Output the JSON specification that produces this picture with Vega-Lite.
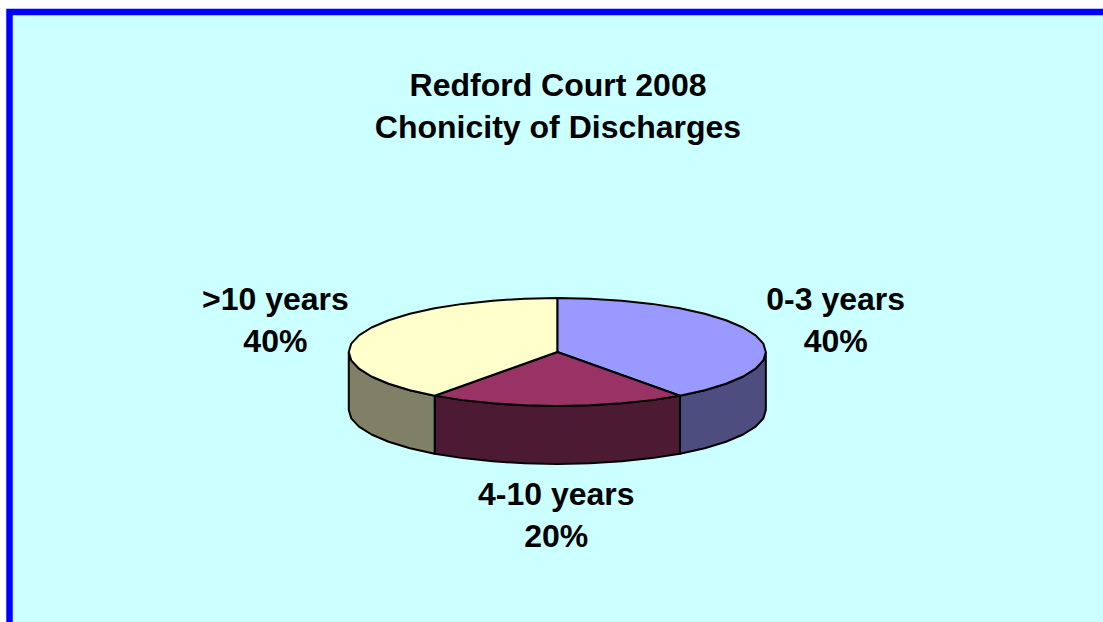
{
"$schema":"https://vega.github.io/schema/vega-lite/v6.json",
"autosize":{"type":"none"},
"padding":{"left":9.5,"top":12,"right":0,"bottom":0},
"width":1120,"height":630,
"background":"#FFFFFF",
"view":{"fill":"#CCFFFF","stroke":"#0000FF","strokeWidth":6.5},
"title":{"text":["Redford Court 2008","Chonicity of Discharges"],"anchor":"start","frame":"group","orient":"top","align":"center","baseline":"top","dx":548.5,"offset":-133,"font":"Liberation Sans","fontSize":32,"fontWeight":"bold","lineHeight":42,"color":"#000000"},
"datasets":{
"sides":[
{"part":"0-3 years side","i":1,"u":1,"v":0},{"part":"0-3 years side","i":2,"u":0.988,"v":-0.156},{"part":"0-3 years side","i":3,"u":0.951,"v":-0.309},{"part":"0-3 years side","i":4,"u":0.891,"v":-0.454},{"part":"0-3 years side","i":5,"u":0.809,"v":-0.588},{"part":"0-3 years side","i":6,"u":0.707,"v":-0.707},{"part":"0-3 years side","i":7,"u":0.588,"v":-0.809},{"part":"0-3 years side","i":8,"u":0.588,"v":-1.883},{"part":"0-3 years side","i":9,"u":0.707,"v":-1.781},{"part":"0-3 years side","i":10,"u":0.809,"v":-1.662},{"part":"0-3 years side","i":11,"u":0.891,"v":-1.528},{"part":"0-3 years side","i":12,"u":0.951,"v":-1.383},{"part":"0-3 years side","i":13,"u":0.988,"v":-1.23},{"part":"0-3 years side","i":14,"u":1,"v":-1.074},{"part":"0-3 years side","i":15,"u":1,"v":0},
{"part":"4-10 years side","i":1,"u":0.588,"v":-0.809},{"part":"4-10 years side","i":2,"u":0.454,"v":-0.891},{"part":"4-10 years side","i":3,"u":0.309,"v":-0.951},{"part":"4-10 years side","i":4,"u":0.156,"v":-0.988},{"part":"4-10 years side","i":5,"u":0,"v":-1},{"part":"4-10 years side","i":6,"u":-0.156,"v":-0.988},{"part":"4-10 years side","i":7,"u":-0.309,"v":-0.951},{"part":"4-10 years side","i":8,"u":-0.454,"v":-0.891},{"part":"4-10 years side","i":9,"u":-0.588,"v":-0.809},{"part":"4-10 years side","i":10,"u":-0.588,"v":-1.883},{"part":"4-10 years side","i":11,"u":-0.454,"v":-1.965},{"part":"4-10 years side","i":12,"u":-0.309,"v":-2.025},{"part":"4-10 years side","i":13,"u":-0.156,"v":-2.062},{"part":"4-10 years side","i":14,"u":0,"v":-2.074},{"part":"4-10 years side","i":15,"u":0.156,"v":-2.062},{"part":"4-10 years side","i":16,"u":0.309,"v":-2.025},{"part":"4-10 years side","i":17,"u":0.454,"v":-1.965},{"part":"4-10 years side","i":18,"u":0.588,"v":-1.883},{"part":"4-10 years side","i":19,"u":0.588,"v":-0.809},
{"part":">10 years side","i":1,"u":-1,"v":0},{"part":">10 years side","i":2,"u":-0.988,"v":-0.156},{"part":">10 years side","i":3,"u":-0.951,"v":-0.309},{"part":">10 years side","i":4,"u":-0.891,"v":-0.454},{"part":">10 years side","i":5,"u":-0.809,"v":-0.588},{"part":">10 years side","i":6,"u":-0.707,"v":-0.707},{"part":">10 years side","i":7,"u":-0.588,"v":-0.809},{"part":">10 years side","i":8,"u":-0.588,"v":-1.883},{"part":">10 years side","i":9,"u":-0.707,"v":-1.781},{"part":">10 years side","i":10,"u":-0.809,"v":-1.662},{"part":">10 years side","i":11,"u":-0.891,"v":-1.528},{"part":">10 years side","i":12,"u":-0.951,"v":-1.383},{"part":">10 years side","i":13,"u":-0.988,"v":-1.23},{"part":">10 years side","i":14,"u":-1,"v":-1.074},{"part":">10 years side","i":15,"u":-1,"v":0}
],
"tops":[
{"part":"0-3 years top","i":0,"u":0,"v":0},{"part":"0-3 years top","i":1,"u":0,"v":1},{"part":"0-3 years top","i":2,"u":0.156,"v":0.988},{"part":"0-3 years top","i":3,"u":0.309,"v":0.951},{"part":"0-3 years top","i":4,"u":0.454,"v":0.891},{"part":"0-3 years top","i":5,"u":0.588,"v":0.809},{"part":"0-3 years top","i":6,"u":0.707,"v":0.707},{"part":"0-3 years top","i":7,"u":0.809,"v":0.588},{"part":"0-3 years top","i":8,"u":0.891,"v":0.454},{"part":"0-3 years top","i":9,"u":0.951,"v":0.309},{"part":"0-3 years top","i":10,"u":0.988,"v":0.156},{"part":"0-3 years top","i":11,"u":1,"v":0},{"part":"0-3 years top","i":12,"u":0.988,"v":-0.156},{"part":"0-3 years top","i":13,"u":0.951,"v":-0.309},{"part":"0-3 years top","i":14,"u":0.891,"v":-0.454},{"part":"0-3 years top","i":15,"u":0.809,"v":-0.588},{"part":"0-3 years top","i":16,"u":0.707,"v":-0.707},{"part":"0-3 years top","i":17,"u":0.588,"v":-0.809},{"part":"0-3 years top","i":18,"u":0,"v":0},
{"part":"4-10 years top","i":0,"u":0,"v":0},{"part":"4-10 years top","i":1,"u":0.588,"v":-0.809},{"part":"4-10 years top","i":2,"u":0.454,"v":-0.891},{"part":"4-10 years top","i":3,"u":0.309,"v":-0.951},{"part":"4-10 years top","i":4,"u":0.156,"v":-0.988},{"part":"4-10 years top","i":5,"u":0,"v":-1},{"part":"4-10 years top","i":6,"u":-0.156,"v":-0.988},{"part":"4-10 years top","i":7,"u":-0.309,"v":-0.951},{"part":"4-10 years top","i":8,"u":-0.454,"v":-0.891},{"part":"4-10 years top","i":9,"u":-0.588,"v":-0.809},{"part":"4-10 years top","i":10,"u":0,"v":0},
{"part":">10 years top","i":0,"u":0,"v":0},{"part":">10 years top","i":1,"u":-0.588,"v":-0.809},{"part":">10 years top","i":2,"u":-0.707,"v":-0.707},{"part":">10 years top","i":3,"u":-0.809,"v":-0.588},{"part":">10 years top","i":4,"u":-0.891,"v":-0.454},{"part":">10 years top","i":5,"u":-0.951,"v":-0.309},{"part":">10 years top","i":6,"u":-0.988,"v":-0.156},{"part":">10 years top","i":7,"u":-1,"v":0},{"part":">10 years top","i":8,"u":-0.988,"v":0.156},{"part":">10 years top","i":9,"u":-0.951,"v":0.309},{"part":">10 years top","i":10,"u":-0.891,"v":0.454},{"part":">10 years top","i":11,"u":-0.809,"v":0.588},{"part":">10 years top","i":12,"u":-0.707,"v":0.707},{"part":">10 years top","i":13,"u":-0.588,"v":0.809},{"part":">10 years top","i":14,"u":-0.454,"v":0.891},{"part":">10 years top","i":15,"u":-0.309,"v":0.951},{"part":">10 years top","i":16,"u":-0.156,"v":0.988},{"part":">10 years top","i":17,"u":0,"v":1},{"part":">10 years top","i":18,"u":0,"v":0}
],
"labels":[
{"label":"0-3 years\n40%","u":1.335,"v":0.96},
{"label":"4-10 years\n20%","u":-0.005,"v":-2.65},
{"label":">10 years\n40%","u":-1.352,"v":0.96}
]
},
"layer":[
{"data":{"name":"sides"},"mark":{"type":"line","stroke":"#000000","strokeWidth":2,"strokeJoin":"round"},
"encoding":{
"x":{"field":"u","type":"quantitative","axis":null,"scale":{"domain":[-2.627,2.744],"nice":false,"zero":false}},
"y":{"field":"v","type":"quantitative","axis":null,"scale":{"domain":[-5.37,6.296],"nice":false,"zero":false}},
"order":{"field":"i","type":"quantitative"},
"fill":{"field":"part","type":"nominal","legend":null,"scale":{"domain":["0-3 years side","4-10 years side",">10 years side","0-3 years top","4-10 years top",">10 years top"],"range":["#4D4D80","#4D1A33","#808066","#9999FF","#993366","#FFFFCC"]}}
}},
{"data":{"name":"tops"},"mark":{"type":"line","stroke":"#000000","strokeWidth":2,"strokeJoin":"round"},
"encoding":{
"x":{"field":"u","type":"quantitative"},
"y":{"field":"v","type":"quantitative"},
"order":{"field":"i","type":"quantitative"},
"fill":{"field":"part","type":"nominal","legend":null}
}},
{"data":{"name":"labels"},"mark":{"type":"text","font":"Liberation Sans","fontSize":32,"fontWeight":"bold","color":"#000000","align":"center","baseline":"middle","lineBreak":"\n","lineHeight":42},
"encoding":{
"x":{"field":"u","type":"quantitative"},
"y":{"field":"v","type":"quantitative"},
"text":{"field":"label","type":"nominal"}
}}
]
}
